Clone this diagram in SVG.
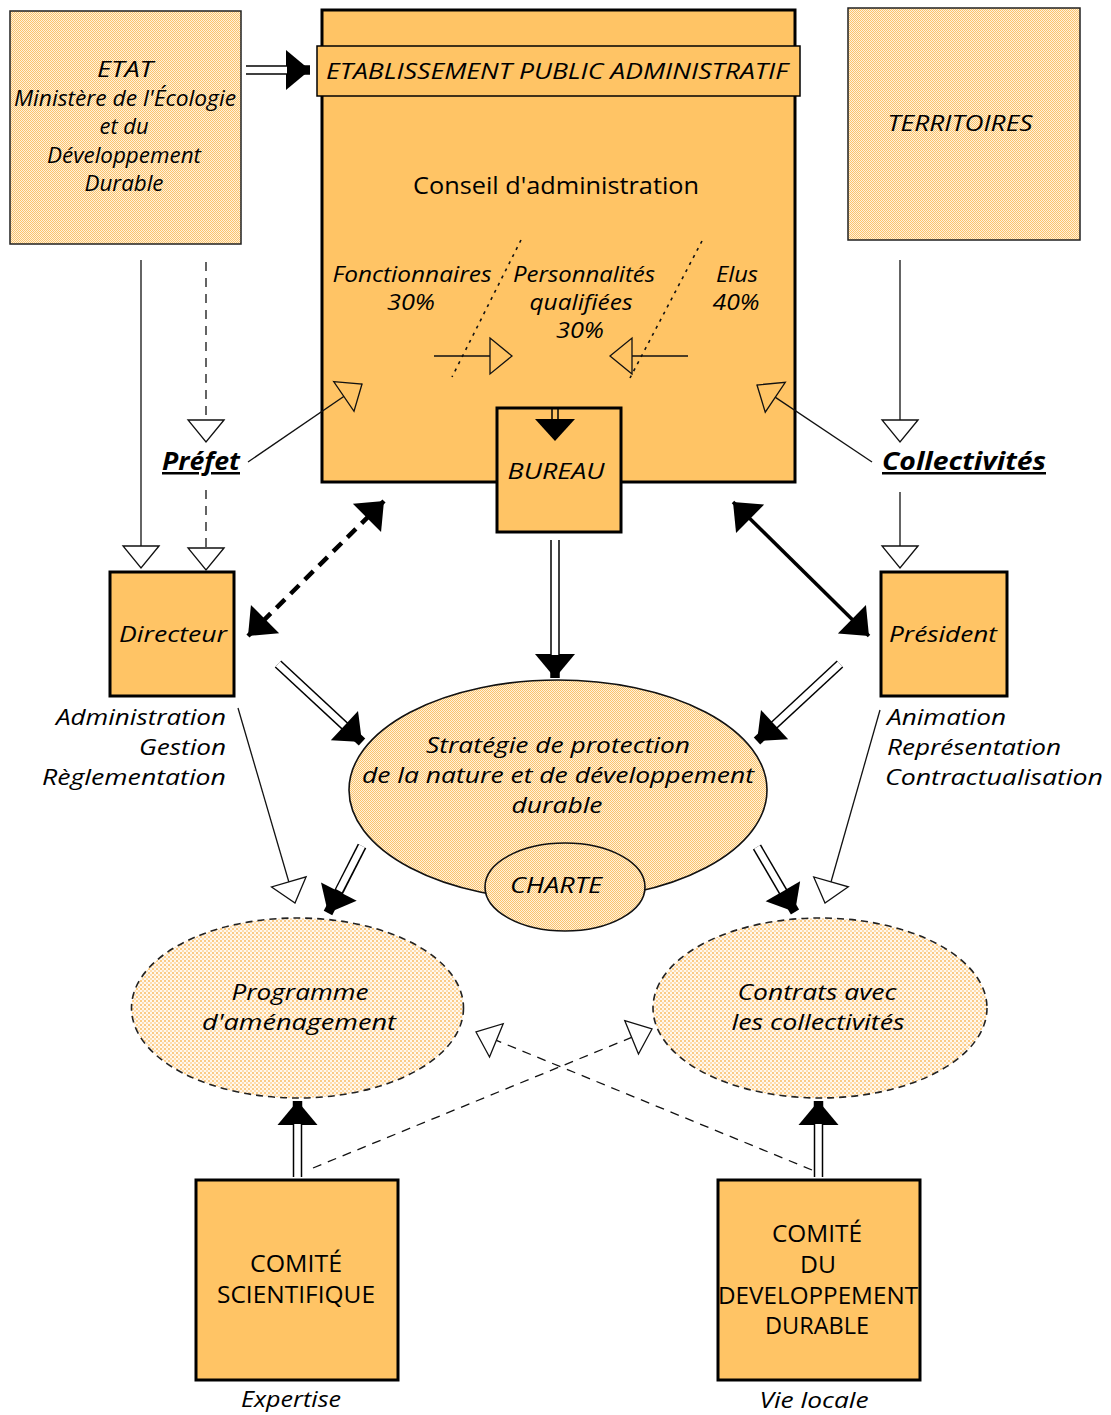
<svg xmlns="http://www.w3.org/2000/svg" width="1111" height="1415" viewBox="0 0 1111 1415">
<style>
  text { font-family: "Open Sans", "Liberation Sans", sans-serif; fill: #000; }
  .it { font-style: italic; font-size: 22px; }
  .c { text-anchor: middle; }
  .r { text-anchor: end; }
  .hd { font-style: italic; font-weight: bold; font-size: 25px; text-decoration: underline; }
  .up { font-size: 23px; }
  .box { fill: #FFC465; stroke: #000; stroke-width: 3; }
  .lbox { fill: url(#hatch); stroke: #222; stroke-width: 1.5; }
  .ln { fill: none; stroke: #111; stroke-width: 1.3; }
  .dash { stroke-dasharray: 9 7; }
  .dot { fill: none; stroke: #111; stroke-width: 1.6; stroke-dasharray: 3 5; }
  .dblo { fill: none; stroke: #000; stroke-width: 9.5; }
  .dbli { fill: none; stroke: #fff; stroke-width: 6.5; }
</style>
<defs>
  <pattern id="hatch" width="2" height="2" patternUnits="userSpaceOnUse">
    <rect width="2" height="2" fill="#FFF1DC"/>
    <rect width="1" height="1" fill="#FBC46C"/>
    <rect x="1" y="1" width="1" height="1" fill="#FBC46C"/>
  </pattern>
  <pattern id="dots" width="4" height="4" patternUnits="userSpaceOnUse">
    <rect width="4" height="4" fill="#FFF8EE"/>
    <rect width="2" height="2" fill="#FBCB85"/>
    <rect x="2" y="2" width="2" height="2" fill="#FDDDB0"/>
  </pattern>
  <marker id="open" markerUnits="userSpaceOnUse" markerWidth="30" markerHeight="44" refX="22" refY="20" orient="auto" overflow="visible">
    <path d="M0,2 L22,20 L0,38 Z" fill="#fff" stroke="#111" stroke-width="1.3"/>
  </marker>
  <marker id="opento" markerUnits="userSpaceOnUse" markerWidth="30" markerHeight="44" refX="22" refY="20" orient="auto" overflow="visible">
    <path d="M0,2 L22,20 L0,38 Z" fill="#FFC465" stroke="#111" stroke-width="1.3"/>
  </marker>
  <marker id="solid" markerUnits="userSpaceOnUse" markerWidth="30" markerHeight="44" refX="24" refY="20" orient="auto-start-reverse" overflow="visible">
    <path d="M0,0 L24,20 L0,40 Z" fill="#000"/>
  </marker>
</defs>

<rect width="1111" height="1415" fill="#fff"/>

<g id="etat">
  <rect class="lbox" x="10" y="11" width="231" height="233"/>
  <text class="it c" x="125" y="77" textLength="56" lengthAdjust="spacingAndGlyphs">ETAT</text>
  <text class="it c" x="125" y="106" font-size="21" textLength="222" lengthAdjust="spacingAndGlyphs">Ministère de l'Écologie</text>
  <text class="it c" x="124" y="134" font-size="21" textLength="49" lengthAdjust="spacingAndGlyphs">et du</text>
  <text class="it c" x="124" y="163" font-size="21" textLength="154" lengthAdjust="spacingAndGlyphs">Développement</text>
  <text class="it c" x="124" y="191" font-size="21" textLength="79" lengthAdjust="spacingAndGlyphs">Durable</text>
</g>

<g id="territoires">
  <rect class="lbox" x="848" y="8" width="232" height="232"/>
  <text class="it c" x="960" y="131" font-size="23" textLength="145" lengthAdjust="spacingAndGlyphs">TERRITOIRES</text>
</g>

<g id="epa">
  <rect class="box" x="322" y="10" width="473" height="472"/>
  <rect fill="#FFC465" stroke="#000" stroke-width="1.5" x="317" y="46" width="483" height="50"/>
  <text class="it c" x="557" y="79" font-size="23" textLength="462" lengthAdjust="spacingAndGlyphs">ETABLISSEMENT PUBLIC ADMINISTRATIF</text>
  <text class="c" x="556" y="194" font-size="23" textLength="286" lengthAdjust="spacingAndGlyphs">Conseil d'administration</text>
  <text class="it c" x="412" y="282" textLength="159" lengthAdjust="spacingAndGlyphs">Fonctionnaires</text>
  <text class="it c" x="411" y="310" textLength="48" lengthAdjust="spacingAndGlyphs">30%</text>
  <text class="it c" x="584" y="282" textLength="142" lengthAdjust="spacingAndGlyphs">Personnalités</text>
  <text class="it c" x="581" y="310" textLength="103" lengthAdjust="spacingAndGlyphs">qualifiées</text>
  <text class="it c" x="580" y="338" textLength="48" lengthAdjust="spacingAndGlyphs">30%</text>
  <text class="it c" x="737" y="282" textLength="42" lengthAdjust="spacingAndGlyphs">Elus</text>
  <text class="it c" x="736" y="310" textLength="47" lengthAdjust="spacingAndGlyphs">40%</text>
</g>

<g id="bureau">
  <rect class="box" x="497" y="408" width="124" height="124"/>
  <text class="it c" x="556" y="479" font-size="23" textLength="97" lengthAdjust="spacingAndGlyphs">BUREAU</text>
</g>

<g id="prefet">
  <text class="hd c" x="201" y="470" textLength="78" lengthAdjust="spacingAndGlyphs">Préfet</text>
</g>

<g id="collectivites">
  <text class="hd c" x="964" y="470" textLength="164" lengthAdjust="spacingAndGlyphs">Collectivités</text>
</g>

<g id="directeur">
  <rect class="box" x="110" y="572" width="124" height="124"/>
  <text class="it c" x="173" y="642" textLength="108" lengthAdjust="spacingAndGlyphs">Directeur</text>
  <text class="it r" x="226" y="725" textLength="170" lengthAdjust="spacingAndGlyphs">Administration</text>
  <text class="it r" x="226" y="755" textLength="87" lengthAdjust="spacingAndGlyphs">Gestion</text>
  <text class="it r" x="226" y="785" textLength="184" lengthAdjust="spacingAndGlyphs">Règlementation</text>
</g>

<g id="president">
  <rect class="box" x="881" y="572" width="126" height="124"/>
  <text class="it c" x="943" y="642" textLength="108" lengthAdjust="spacingAndGlyphs">Président</text>
  <text class="it" x="887" y="725" textLength="119" lengthAdjust="spacingAndGlyphs">Animation</text>
  <text class="it" x="887" y="755" textLength="174" lengthAdjust="spacingAndGlyphs">Représentation</text>
  <text class="it" x="885" y="785" textLength="218" lengthAdjust="spacingAndGlyphs">Contractualisation</text>
</g>

<g id="strategie">
  <ellipse cx="558" cy="790" rx="209" ry="110" fill="url(#hatch)" stroke="#111" stroke-width="1.6"/>
  <text class="it c" x="558" y="753" textLength="264" lengthAdjust="spacingAndGlyphs">Stratégie de protection</text>
  <text class="it c" x="558" y="783" textLength="392" lengthAdjust="spacingAndGlyphs">de la nature et de développement</text>
  <text class="it c" x="557" y="813" textLength="91" lengthAdjust="spacingAndGlyphs">durable</text>
</g>

<g id="charte">
  <ellipse cx="565" cy="887" rx="80" ry="44" fill="url(#hatch)" stroke="#111" stroke-width="1.6"/>
  <text class="it c" x="556" y="893" textLength="92" lengthAdjust="spacingAndGlyphs">CHARTE</text>
</g>

<g id="programme">
  <ellipse cx="297.5" cy="1008" rx="166" ry="90" fill="url(#dots)" stroke="#222" stroke-width="1.6" stroke-dasharray="7 5"/>
  <text class="it c" x="300" y="1000" textLength="137" lengthAdjust="spacingAndGlyphs">Programme</text>
  <text class="it c" x="299" y="1030" textLength="194" lengthAdjust="spacingAndGlyphs">d'aménagement</text>
</g>

<g id="contrats">
  <ellipse cx="820" cy="1008" rx="167" ry="90" fill="url(#dots)" stroke="#222" stroke-width="1.6" stroke-dasharray="7 5"/>
  <text class="it c" x="817" y="1000" textLength="159" lengthAdjust="spacingAndGlyphs">Contrats avec</text>
  <text class="it c" x="818" y="1030" textLength="173" lengthAdjust="spacingAndGlyphs">les collectivités</text>
</g>

<g id="comite-scientifique">
  <rect class="box" x="196" y="1180" width="202" height="200"/>
  <text class="up c" x="296" y="1272" textLength="92" lengthAdjust="spacingAndGlyphs">COMITÉ</text>
  <text class="up c" x="296" y="1303" textLength="158" lengthAdjust="spacingAndGlyphs">SCIENTIFIQUE</text>
  <text class="c" x="291" y="1407" font-size="21" font-style="italic" textLength="100" lengthAdjust="spacingAndGlyphs">Expertise</text>
</g>

<g id="comite-dd">
  <rect class="box" x="718" y="1180" width="202" height="200"/>
  <text class="up c" x="817" y="1242" textLength="90" lengthAdjust="spacingAndGlyphs">COMITÉ</text>
  <text class="up c" x="818" y="1273" textLength="36" lengthAdjust="spacingAndGlyphs">DU</text>
  <text class="up c" x="818" y="1304" textLength="200" lengthAdjust="spacingAndGlyphs">DEVELOPPEMENT</text>
  <text class="up c" x="817" y="1334" textLength="104" lengthAdjust="spacingAndGlyphs">DURABLE</text>
  <text class="c" x="814" y="1408" font-size="21" font-style="italic" textLength="109" lengthAdjust="spacingAndGlyphs">Vie locale</text>
</g>

<g id="connectors">
  <path class="dblo" d="M246,70 H310" marker-end="url(#solid)"/>
  <path class="dbli" d="M246,70 H287"/>
  <path class="ln" d="M141,260 V568" marker-end="url(#open)"/>
  <path class="ln dash" d="M206,262 V442" marker-end="url(#open)"/>
  <path class="ln dash" d="M206,490 V570" marker-end="url(#open)"/>
  <path class="ln" d="M248,462 L362,384" marker-end="url(#opento)"/>
  <path class="ln" d="M900,260 V442" marker-end="url(#open)"/>
  <path class="ln" d="M900,492 V568" marker-end="url(#open)"/>
  <path class="ln" d="M872,462 L757,385" marker-end="url(#opento)"/>
  <path class="dot" d="M521,240 L452,377"/>
  <path class="dot" d="M702,241 L630,378"/>
  <path class="ln" d="M434,356 H512" marker-end="url(#opento)"/>
  <path class="ln" d="M688,356 H610" marker-end="url(#opento)"/>
  <path fill="none" stroke="#000" stroke-width="1.5" d="M552,409 V421 M558,409 V421"/>
  <path d="M535,419 L575,419 L555,441 Z" fill="#000"/>
  <path class="dblo" d="M555,540 V678" marker-end="url(#solid)"/>
  <path class="dbli" d="M555,540 V655"/>
  <path fill="none" stroke="#000" stroke-width="4.5" stroke-dasharray="12 8" d="M248,636 L384,501" marker-start="url(#solid)" marker-end="url(#solid)"/>
  <path fill="none" stroke="#000" stroke-width="3.5" d="M733,502 L869,636" marker-start="url(#solid)" marker-end="url(#solid)"/>
  <path class="dblo" d="M278,664 L362,742" marker-end="url(#solid)"/>
  <path class="dbli" d="M278,664 L344.4,725.7"/>
  <path class="dblo" d="M840,664 L757,741" marker-end="url(#solid)"/>
  <path class="dbli" d="M840,664 L774.6,724.7"/>
  <path class="dblo" d="M362,846 L328,913" marker-end="url(#solid)"/>
  <path class="dbli" d="M362,846 L339,890.7"/>
  <path class="dblo" d="M757,847 L795,912" marker-end="url(#solid)"/>
  <path class="dbli" d="M757,847 L782.9,891.3"/>
  <path class="ln" d="M238,708 L295,903" marker-end="url(#open)"/>
  <path class="ln" d="M880,710 L825,903" marker-end="url(#open)"/>
  <path class="dblo" d="M297.5,1177 V1101" marker-end="url(#solid)"/>
  <path class="dbli" d="M297.5,1177 V1124"/>
  <path class="dblo" d="M818.5,1177 V1101" marker-end="url(#solid)"/>
  <path class="dbli" d="M818.5,1177 V1124"/>
  <path class="ln dash" d="M313,1168 L652,1029" marker-end="url(#open)"/>
  <path class="ln dash" d="M812,1170 L476,1032" marker-end="url(#open)"/>
</g>
</svg>
